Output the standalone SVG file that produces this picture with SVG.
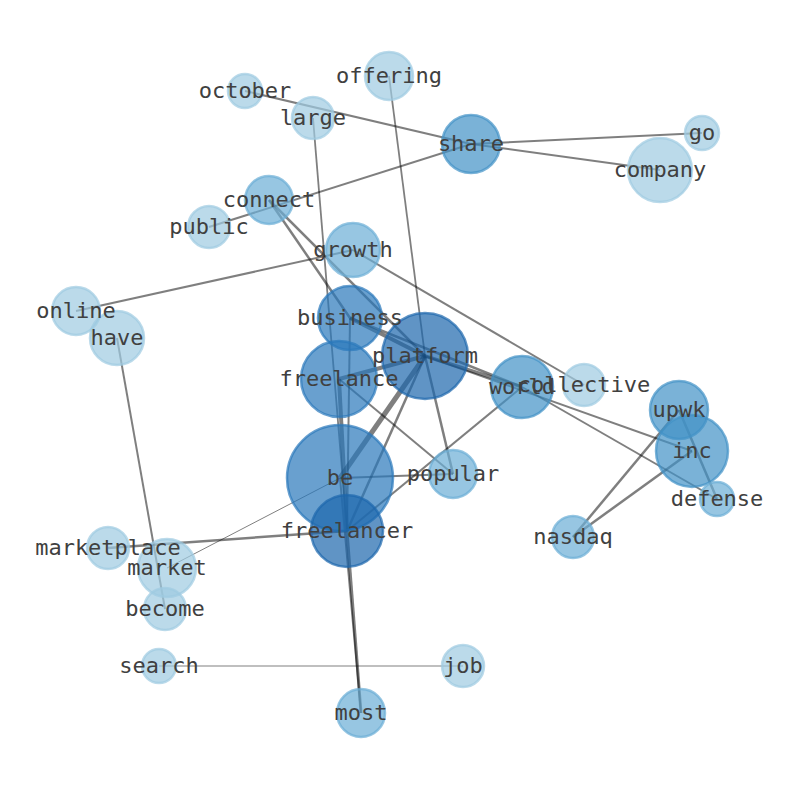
<svg xmlns="http://www.w3.org/2000/svg" width="794" height="790" viewBox="0 0 794 790">
<style>
.e{stroke:#000;stroke-opacity:0.5;fill:none;stroke-linecap:butt}
.n circle{stroke-width:2.5;fill-opacity:0.7;stroke-opacity:0.7}
.l1 circle{fill:#9ecae1;stroke:#9ecae1}
.l2 circle{fill:#6baed6;stroke:#6baed6}
.l3 circle{fill:#4292c6;stroke:#4292c6}
.l4 circle{fill:#2a78ba;stroke:#2a78ba}
.l5 circle{fill:#1c67ad;stroke:#1c67ad}
text{font-family:"DejaVu Sans Mono","Liberation Mono",monospace;font-size:22px;fill:#404040;text-anchor:middle}
</style>
<rect width="794" height="790" fill="#fff"/>
<g id="edges">
<line class="e" x1="245" y1="91" x2="471" y2="144" stroke-width="2"/>
<line class="e" x1="471" y1="144" x2="702" y2="133" stroke-width="2"/>
<line class="e" x1="471" y1="144" x2="660" y2="170" stroke-width="2"/>
<line class="e" x1="471" y1="144" x2="209" y2="227" stroke-width="2"/>
<line class="e" x1="389" y1="76" x2="425" y2="356" stroke-width="1.8"/>
<line class="e" x1="313" y1="118" x2="347" y2="531" stroke-width="1.8"/>
<line class="e" x1="269" y1="200" x2="350" y2="318" stroke-width="2.5"/>
<line class="e" x1="269" y1="200" x2="425" y2="356" stroke-width="2.5"/>
<line class="e" x1="353" y1="250" x2="76" y2="311" stroke-width="2"/>
<line class="e" x1="353" y1="250" x2="584" y2="385" stroke-width="2"/>
<line class="e" x1="117" y1="338" x2="165" y2="609" stroke-width="2"/>
<line class="e" x1="350" y1="318" x2="425" y2="356" stroke-width="4"/>
<line class="e" x1="350" y1="318" x2="522" y2="387" stroke-width="2.5"/>
<line class="e" x1="425" y1="356" x2="522" y2="387" stroke-width="3.5"/>
<line class="e" x1="425" y1="356" x2="692" y2="451" stroke-width="2"/>
<line class="e" x1="425" y1="356" x2="339" y2="379" stroke-width="4"/>
<line class="e" x1="425" y1="356" x2="340" y2="478" stroke-width="5"/>
<line class="e" x1="425" y1="356" x2="347" y2="531" stroke-width="2.5"/>
<line class="e" x1="425" y1="356" x2="453" y2="474" stroke-width="2.5"/>
<line class="e" x1="339" y1="379" x2="453" y2="474" stroke-width="2"/>
<line class="e" x1="340" y1="478" x2="453" y2="474" stroke-width="2"/>
<line class="e" x1="522" y1="387" x2="347" y2="531" stroke-width="2"/>
<line class="e" x1="522" y1="387" x2="717" y2="499" stroke-width="2"/>
<line class="e" x1="679" y1="410" x2="573" y2="537" stroke-width="2.5"/>
<line class="e" x1="692" y1="451" x2="573" y2="537" stroke-width="2.5"/>
<line class="e" x1="679" y1="410" x2="717" y2="499" stroke-width="2.5"/>
<line class="e" x1="108" y1="548" x2="347" y2="531" stroke-width="2.5"/>
<line class="e" x1="167" y1="568" x2="340" y2="478" stroke-width="1"/>
<line class="e" x1="159" y1="666" x2="463" y2="666" stroke-width="1.2"/>
<line class="e" x1="339" y1="379" x2="347" y2="531" stroke-width="4"/>
<line class="e" x1="350" y1="318" x2="347" y2="531" stroke-width="2"/>
<line class="e" x1="347" y1="531" x2="361" y2="713" stroke-width="3"/>
<line class="e" x1="340" y1="478" x2="361" y2="713" stroke-width="2"/>
</g>
<g id="node-october" class="n l1"><circle cx="245" cy="91" r="17"/></g>
<g id="node-large" class="n l1"><circle cx="313" cy="118" r="21"/></g>
<g id="node-offering" class="n l1"><circle cx="389" cy="76" r="24"/></g>
<g id="node-share" class="n l3"><circle cx="471" cy="144" r="29"/></g>
<g id="node-go" class="n l1"><circle cx="702" cy="133" r="17"/></g>
<g id="node-company" class="n l1"><circle cx="660" cy="170" r="32"/></g>
<g id="node-connect" class="n l2"><circle cx="269" cy="200" r="24"/></g>
<g id="node-public" class="n l1"><circle cx="209" cy="227" r="21"/></g>
<g id="node-growth" class="n l2"><circle cx="353" cy="250" r="27"/></g>
<g id="node-online" class="n l1"><circle cx="76" cy="311" r="24"/></g>
<g id="node-have" class="n l1"><circle cx="117" cy="338" r="27"/></g>
<g id="node-business" class="n l4"><circle cx="350" cy="318" r="32"/></g>
<g id="node-platform" class="n l5"><circle cx="425" cy="356" r="43"/></g>
<g id="node-freelance" class="n l4"><circle cx="339" cy="379" r="38"/></g>
<g id="node-world" class="n l3"><circle cx="522" cy="387" r="31"/></g>
<g id="node-collective" class="n l1"><circle cx="584" cy="385" r="21"/></g>
<g id="node-upwk" class="n l3"><circle cx="679" cy="410" r="29"/></g>
<g id="node-inc" class="n l3"><circle cx="692" cy="451" r="36"/></g>
<g id="node-defense" class="n l2"><circle cx="717" cy="499" r="17"/></g>
<g id="node-be" class="n l4"><circle cx="340" cy="478" r="53"/></g>
<g id="node-popular" class="n l2"><circle cx="453" cy="474" r="24"/></g>
<g id="node-freelancer" class="n l5"><circle cx="347" cy="531" r="36"/></g>
<g id="node-nasdaq" class="n l2"><circle cx="573" cy="537" r="21"/></g>
<g id="node-marketplace" class="n l1"><circle cx="108" cy="548" r="21"/></g>
<g id="node-market" class="n l1"><circle cx="167" cy="568" r="29"/></g>
<g id="node-become" class="n l1"><circle cx="165" cy="609" r="21"/></g>
<g id="node-search" class="n l1"><circle cx="159" cy="666" r="17"/></g>
<g id="node-job" class="n l1"><circle cx="463" cy="666" r="21"/></g>
<g id="node-most" class="n l2"><circle cx="361" cy="713" r="24"/></g>
<g id="labels">
<text x="245" y="98">october</text>
<text x="313" y="125">large</text>
<text x="389" y="83">offering</text>
<text x="471" y="151">share</text>
<text x="702" y="140">go</text>
<text x="660" y="177">company</text>
<text x="269" y="207">connect</text>
<text x="209" y="234">public</text>
<text x="353" y="257">growth</text>
<text x="76" y="318">online</text>
<text x="117" y="345">have</text>
<text x="350" y="325">business</text>
<text x="425" y="363">platform</text>
<text x="339" y="386">freelance</text>
<text x="522" y="394">world</text>
<text x="584" y="392">collective</text>
<text x="679" y="417">upwk</text>
<text x="692" y="458">inc</text>
<text x="717" y="506">defense</text>
<text x="340" y="485">be</text>
<text x="453" y="481">popular</text>
<text x="347" y="538">freelancer</text>
<text x="573" y="544">nasdaq</text>
<text x="108" y="555">marketplace</text>
<text x="167" y="575">market</text>
<text x="165" y="616">become</text>
<text x="159" y="673">search</text>
<text x="463" y="673">job</text>
<text x="361" y="720">most</text>
</g>
</svg>
